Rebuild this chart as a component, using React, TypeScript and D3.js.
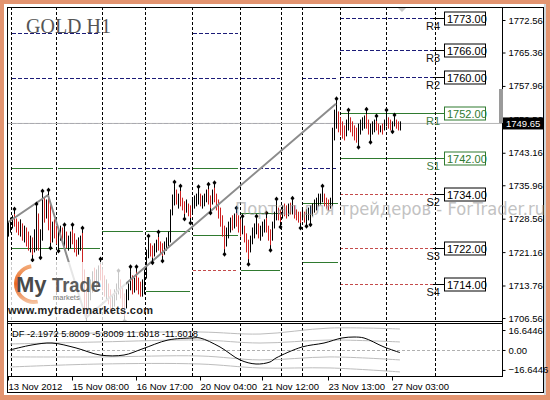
import * as d3 from 'd3';
import { useEffect, useRef } from 'react';

const FONT = '"Liberation Sans", Arial, sans-serif';
const MAIN = { left: 7, right: 502, top: 7, bottom: 321 };
const SUB = { top: 323, bottom: 376 };

// hourly bars (price units)
const barHigh = [
  1727.8, 1728.7, 1729.2, 1729.6, 1728.5, 1727.8, 1728.3, 1727.4, 1726.9, 1726.5,
  1725.6, 1724.7, 1724.3, 1726.1, 1730.7, 1729.6, 1726.1, 1733.6, 1733.1, 1732.7,
  1733.8, 1732.0, 1727.8, 1728.3, 1726.9, 1726.1, 1726.9, 1726.5, 1726.1, 1725.6,
  1724.7, 1725.6, 1726.1, 1725.2, 1723.8, 1724.3, 1724.7, 1725.4, 1717.2, 1712.8,
  1713.9, 1715.0, 1716.8, 1717.6, 1717.2, 1718.1, 1718.5, 1717.2, 1715.9, 1715.0,
  1714.1, 1712.8, 1711.4, 1712.8, 1714.1, 1715.9, 1715.0, 1713.2, 1711.9, 1712.8,
  1714.1, 1716.8, 1715.9, 1715.4, 1716.8, 1715.4, 1714.5, 1715.0, 1717.2, 1721.6,
  1723.6, 1723.0, 1722.5, 1723.0, 1723.8, 1724.5, 1723.4, 1723.0, 1723.4, 1724.3,
  1725.6, 1730.5, 1733.8, 1735.6, 1734.9, 1734.0, 1734.7, 1733.1, 1732.3, 1732.7,
  1731.8, 1731.4, 1732.7, 1733.6, 1734.0, 1734.5, 1734.0, 1733.6, 1734.0, 1734.9,
  1735.1, 1733.6, 1734.9, 1735.4, 1734.0, 1732.7, 1730.9, 1729.2, 1726.9, 1726.5,
  1727.8, 1728.7, 1729.2, 1729.6, 1729.8, 1729.2, 1728.3, 1728.0, 1726.9, 1725.2,
  1723.8, 1724.7, 1726.5, 1727.4, 1728.0, 1727.4, 1726.9, 1727.8, 1728.3, 1728.7,
  1726.9, 1726.1, 1727.8, 1730.0, 1731.8, 1730.9, 1730.5, 1731.4, 1731.8, 1731.4,
  1731.8, 1732.0, 1732.0, 1731.4, 1730.5, 1730.0, 1730.0, 1730.5, 1730.0, 1730.5,
  1730.9, 1731.4, 1731.8, 1732.7, 1733.1, 1734.0, 1734.0, 1734.7, 1734.0, 1733.1,
  1732.7, 1733.1, 1748.6, 1752.6, 1754.0, 1752.2, 1750.9, 1750.0, 1749.1, 1750.4,
  1751.5, 1750.9, 1750.0, 1749.1, 1748.6, 1749.5, 1750.4, 1750.9, 1751.3, 1751.7,
  1750.4, 1749.5, 1750.0, 1750.4, 1750.2, 1749.5, 1749.1, 1749.5, 1750.4, 1751.5,
  1750.9, 1750.4, 1750.0, 1750.4, 1750.4, 1750.0, 1750.0,
];
const barLow = [
  1724.7, 1725.6, 1726.5, 1726.9, 1725.6, 1725.0, 1724.7, 1723.8, 1723.4, 1722.5,
  1721.6, 1721.2, 1720.5, 1721.2, 1721.6, 1721.6, 1721.0, 1723.8, 1727.8, 1728.7,
  1726.1, 1723.2, 1723.4, 1724.3, 1723.0, 1722.5, 1723.8, 1723.4, 1722.5, 1722.1,
  1721.6, 1722.1, 1723.0, 1721.2, 1720.3, 1720.7, 1721.6, 1712.8, 1707.9, 1706.6,
  1708.3, 1710.6, 1712.3, 1713.9, 1712.8, 1714.5, 1715.0, 1712.8, 1711.4, 1710.6,
  1709.7, 1708.3, 1707.5, 1709.2, 1710.6, 1711.9, 1711.0, 1708.8, 1707.0, 1708.8,
  1710.6, 1712.8, 1711.9, 1712.3, 1712.8, 1711.9, 1711.4, 1711.4, 1711.9, 1715.4,
  1719.9, 1720.3, 1719.9, 1720.3, 1721.2, 1721.6, 1720.7, 1720.3, 1720.7, 1721.6,
  1722.5, 1723.4, 1729.4, 1731.6, 1731.8, 1730.9, 1731.4, 1730.5, 1729.6, 1730.0,
  1729.2, 1728.7, 1729.6, 1730.9, 1731.4, 1731.8, 1731.4, 1730.9, 1731.4, 1732.3,
  1731.8, 1730.9, 1731.8, 1732.3, 1730.5, 1728.7, 1726.9, 1724.7, 1721.8, 1722.5,
  1724.3, 1725.6, 1726.1, 1726.5, 1726.9, 1725.6, 1724.7, 1725.2, 1723.4, 1721.2,
  1719.6, 1721.2, 1723.0, 1724.3, 1725.2, 1724.3, 1723.8, 1724.7, 1725.6, 1725.6,
  1723.8, 1722.7, 1723.8, 1726.5, 1728.3, 1728.3, 1727.8, 1728.7, 1729.2, 1728.7,
  1729.2, 1729.6, 1729.6, 1728.7, 1728.3, 1727.8, 1727.6, 1728.3, 1727.8, 1728.0,
  1728.3, 1728.3, 1729.2, 1730.0, 1730.5, 1731.4, 1731.8, 1732.3, 1731.4, 1730.9,
  1730.5, 1730.9, 1731.4, 1746.0, 1748.6, 1747.8, 1747.1, 1746.4, 1746.0, 1746.9,
  1748.2, 1747.8, 1746.9, 1746.0, 1745.5, 1745.5, 1747.3, 1748.2, 1748.6, 1748.6,
  1747.3, 1746.6, 1747.3, 1747.8, 1748.2, 1747.3, 1747.8, 1747.3, 1748.2, 1749.1,
  1748.6, 1748.2, 1748.9, 1749.1, 1748.6, 1748.2, 1748.2,
];
const barClose = [
  1726.5, 1727.8, 1728.3, 1727.4, 1726.9, 1726.1, 1726.5, 1724.7, 1725.6, 1723.4,
  1722.5, 1723.8, 1721.6, 1724.3, 1729.6, 1722.5, 1724.7, 1732.7, 1730.5, 1731.6,
  1726.9, 1724.3, 1726.5, 1725.6, 1723.8, 1724.7, 1726.1, 1724.7, 1725.6, 1723.0,
  1723.8, 1724.7, 1724.3, 1722.1, 1721.2, 1723.4, 1723.8, 1713.9, 1710.6, 1709.4,
  1711.7, 1713.9, 1715.4, 1714.5, 1716.1, 1717.2, 1715.9, 1713.7, 1712.3, 1712.8,
  1711.0, 1709.2, 1710.6, 1711.9, 1713.2, 1714.5, 1711.9, 1709.7, 1708.3, 1711.4,
  1712.8, 1715.0, 1713.2, 1714.5, 1713.7, 1712.8, 1712.3, 1713.2, 1716.1, 1720.5,
  1722.5, 1721.2, 1720.7, 1722.1, 1723.0, 1722.5, 1721.6, 1721.2, 1722.5, 1723.4,
  1724.7, 1729.4, 1732.7, 1733.8, 1732.7, 1733.1, 1732.3, 1731.4, 1730.5, 1731.8,
  1730.0, 1729.6, 1731.8, 1732.7, 1733.1, 1733.6, 1732.3, 1732.7, 1733.1, 1734.0,
  1732.7, 1731.8, 1734.0, 1733.1, 1731.4, 1729.6, 1727.8, 1725.6, 1723.0, 1725.6,
  1726.5, 1727.8, 1726.9, 1728.7, 1728.3, 1726.5, 1726.1, 1726.9, 1724.3, 1722.1,
  1721.6, 1723.8, 1725.2, 1726.5, 1726.9, 1725.6, 1726.1, 1726.9, 1727.8, 1726.5,
  1724.7, 1723.8, 1726.9, 1729.2, 1730.5, 1729.2, 1728.7, 1730.5, 1730.0, 1729.6,
  1730.9, 1730.5, 1730.9, 1729.6, 1729.2, 1728.7, 1728.3, 1729.6, 1728.7, 1729.2,
  1730.0, 1730.5, 1730.9, 1731.8, 1732.7, 1733.1, 1733.6, 1734.0, 1732.3, 1731.8,
  1731.4, 1732.3, 1748.2, 1750.4, 1752.2, 1749.1, 1748.2, 1747.3, 1746.9, 1749.5,
  1750.4, 1749.1, 1747.8, 1746.9, 1746.4, 1748.6, 1749.5, 1750.0, 1750.4, 1749.5,
  1748.2, 1748.6, 1749.1, 1749.5, 1749.1, 1748.2, 1748.6, 1748.2, 1750.0, 1750.4,
  1749.5, 1749.1, 1749.5, 1750.0, 1749.5, 1749.1, 1749.65,
];
const currentPrice = 1749.65;

// fractal bar indices
const fractalUp = [3, 14, 17, 20, 28, 32, 37, 46, 55, 61, 64, 70, 75, 83, 86, 95, 100, 103, 114, 117, 124, 129, 134, 142, 157, 164, 170, 179, 184, 189, 193];
const fractalDown = [12, 16, 21, 25, 39, 58, 72, 77, 88, 91, 101, 108, 120, 131, 136, 146, 149, 151, 175, 181, 192];

// zigzag vertices [bar index, price]
const zigzag: [number, number][] = [[0, 1727.8], [20, 1733.8], [39, 1706.6], [164, 1754.0]];

// day separators (bar index)
const daySeps = [1.25, 24, 47, 68.5, 92, 116, 136.5, 147, 166, 189, 213.5];

// daily pivot levels of past days: [from, to, price, kind]
const pastLevels: [number, number, number, string][] = [
  [2, 22.5, 1769.7, 'r'], [25, 46, 1769.7, 'r'], [92.5, 115, 1769.7, 'r'],
  [2, 22.5, 1759.7, 'r'], [25, 46, 1759.7, 'r'], [47, 67.5, 1759.7, 'r'], [69, 91, 1759.7, 'r'],
  [92.5, 115, 1759.7, 'r'], [116.5, 136, 1759.7, 'r'], [147, 165, 1759.7, 'r'],
  [2, 22.5, 1749.8, 'r'], [25, 46, 1749.8, 'r'], [47, 67.5, 1749.8, 'r'], [69, 91, 1749.8, 'r'],
  [92.5, 115, 1749.8, 'r'], [116.5, 136, 1749.8, 'r'], [147, 165, 1749.8, 'r'],
  [2, 22.5, 1739.8, 'p'], [25, 46, 1739.8, 'p'], [47, 67.5, 1739.8, 'r'], [69, 91, 1739.8, 'r'],
  [92.5, 115, 1739.8, 'p'], [116.5, 136, 1739.8, 'r'], [147, 165, 1739.8, 'r'],
  [147, 165, 1732.0, 'p'], [116.5, 136, 1729.8, 'p'],
  [47, 67.5, 1725.8, 'p'], [69, 91, 1725.8, 'p'], [92.5, 115, 1724.9, 'p'],
  [2, 22.5, 1722.1, 'p'], [25, 46, 1722.1, 'p'],
  [147, 165, 1719.0, 'p'], [92.5, 115, 1717.2, 's'], [116.5, 136, 1717.2, 'p'],
  [69, 91, 1712.5, 'p'],
];

// current day pivots
const pivotNames = ['R4', 'R3', 'R2', 'R1', 'S1', 'S2', 'S3', 'S4'];
const pivotValues = [1773, 1766, 1760, 1752, 1742, 1734, 1722, 1714];
const pivotKinds = ['r', 'r', 'r', 'p', 'p', 's', 's', 's'];
const pivotSpan = [166, 212.5];

const priceTicks = [1772.56, 1765.36, 1757.96, 1750.56, 1743.16, 1735.96, 1728.56, 1721.16, 1713.76, 1706.56];
const timeTickIdx = [0, 32, 64, 96, 127, 160, 192];
const timeTickLabels = ['13 Nov 2012', '15 Nov 08:00', '16 Nov 17:00', '20 Nov 04:00', '21 Nov 12:00', '23 Nov 13:00', '27 Nov 03:00'];

// DF oscillator
const dfIdx = [1, 12, 22, 34, 46, 58, 67, 80, 92, 96, 106, 116, 124, 131, 134, 147, 158, 167, 173, 178, 188, 196];
const dfVal = [0, 4.2, 5.8, 1.7, -4.2, -4.2, 0.8, 8.3, 10, 10, 2.5, -8.3, -11.7, -10, -6.7, 2.5, 5.8, 10, 10.8, 10, 2.5, -2.2];
const bandIdx = [1, 46, 96, 126, 161, 196];
const bandUp2 = [12.5, 14.2, 15, 13.3, 18.3, 17.5];
const bandUp1 = [5, 6.7, 8.3, 5.8, 8.3, 6.7];
const bandDn1 = [-5.8, -5.8, -5, -8.3, -5.8, -8.3];
const bandDn2 = [-14.2, -11.7, -11.7, -15, -15, -18.3];
const dfTicks = [16.6446, 0, -16.6446];

const LEVEL_STYLE: Record<string, { stroke: string; dash?: string }> = {
  r: { stroke: '#1c1c78', dash: '4,2' },
  p: { stroke: '#2f7a2f' },
  s: { stroke: '#c44a4a', dash: '3,2' },
};

export default function App() {
  const priceAxisRef = useRef<SVGGElement | null>(null);
  const dfAxisRef = useRef<SVGGElement | null>(null);
  const timeAxisRef = useRef<SVGGElement | null>(null);

  const xScale = d3.scaleLinear().domain([0, 196]).range([8, 400]);
  const yScale = d3.scaleLinear().domain([1705.9, 1775.44]).range([MAIN.bottom, MAIN.top]);
  const dfScale = d3.scaleLinear().domain([-21.7, 22.5]).range([SUB.bottom, SUB.top]);

  const px = (i: number) => Math.round(xScale(i)) + 0.5;
  const py = (p: number) => Math.round(yScale(p)) + 0.5;

  useEffect(() => {
    const style = (g: any) => {
      g.attr('font-family', FONT).attr('font-size', 9.5);
      g.select('.domain').remove();
      g.selectAll('line').attr('stroke', '#000');
      g.selectAll('text').attr('fill', '#000');
    };
    const pa = d3.select(priceAxisRef.current);
    pa.selectAll('*').remove();
    pa.call(d3.axisRight(yScale).tickValues(priceTicks).tickSize(3).tickPadding(3).tickFormat(d3.format('.2f')) as any);
    style(pa);

    const da = d3.select(dfAxisRef.current);
    da.selectAll('*').remove();
    da.call(
      d3.axisRight(dfScale).tickValues(dfTicks).tickSize(3).tickPadding(3)
        .tickFormat((d: any) => (d === 0 ? '0.00' : d3.format('.4f')(d))) as any
    );
    style(da);

    const ta = d3.select(timeAxisRef.current);
    ta.selectAll('*').remove();
    ta.call(
      d3.axisBottom(xScale).tickValues(timeTickIdx).tickSize(4).tickPadding(3)
        .tickFormat((_d: any, i: number) => timeTickLabels[i]) as any
    );
    style(ta);
    ta.selectAll('text').attr('text-anchor', 'start');
  }, []);

  const bars = barClose.map((c, i) => {
    const open = i === 0 ? barClose[0] : barClose[i - 1];
    return { i, high: barHigh[i], low: barLow[i], up: c >= open };
  });

  const zigLine = d3.line<[number, number]>().x((d) => xScale(d[0])).y((d) => yScale(d[1]))(zigzag) ?? '';
  const dfLine = d3.line<number>().curve(d3.curveCatmullRom)
    .x((_d, k) => xScale(dfIdx[k])).y((d) => dfScale(d));
  const bandLine = d3.line<number>().curve(d3.curveCatmullRom)
    .x((_d, k) => xScale(bandIdx[k])).y((d) => dfScale(d));

  const diamond = (cx: number, cy: number) =>
    `M${cx},${cy - 2.5}L${cx + 2},${cy}L${cx},${cy + 2.5}L${cx - 2},${cy}Z`;

  const swoosh = d3.arc()({ innerRadius: 16, outerRadius: 20, startAngle: -3.35, endAngle: -0.15 }) ?? '';

  return (
    <svg width={550} height={400} style={{ position: 'absolute', left: 0, top: 0 }}>
      <defs>
        <clipPath id="mainClip">
          <rect x={MAIN.left + 1} y={MAIN.top + 1} width={MAIN.right - MAIN.left - 1} height={MAIN.bottom - MAIN.top - 1} />
        </clipPath>
        <clipPath id="subClip">
          <rect x={MAIN.left + 1} y={SUB.top + 1} width={MAIN.right - MAIN.left - 1} height={SUB.bottom - SUB.top - 1} />
        </clipPath>
        <linearGradient id="swooshGrad" x1="0" y1="0" x2="0" y2="1">
          <stop offset="0%" stopColor="#f4b080" />
          <stop offset="50%" stopColor="#e8661e" />
          <stop offset="100%" stopColor="#f6c8a8" />
        </linearGradient>
      </defs>

      {/* window frame */}
      <rect x={0} y={0} width={550} height={400} fill="#e39470" />
      <rect x={4} y={4} width={542} height={391} fill="#fff" />
      <rect x={544} y={4} width={2} height={391} fill="#cfd6dc" />
      <rect x={7.5} y={7.5} width={536} height={385} fill="none" stroke="#000" />

      {/* main panel */}
      <g clipPath="url(#mainClip)">
        {pastLevels.map(([a, b, p, k], j) => (
          <line key={'pl' + j} x1={xScale(a)} x2={xScale(b)} y1={py(p)} y2={py(p)}
            stroke={LEVEL_STYLE[k].stroke} strokeDasharray={LEVEL_STYLE[k].dash} />
        ))}
        {pivotValues.map((p, j) => (
          <line key={'pv' + j} x1={xScale(pivotSpan[0])} x2={xScale(pivotSpan[1])} y1={py(p)} y2={py(p)}
            stroke={LEVEL_STYLE[pivotKinds[j]].stroke} strokeDasharray={LEVEL_STYLE[pivotKinds[j]].dash} />
        ))}
        {pivotValues.map((p, j) => (
          <line key={'pc' + j} x1={xScale(pivotSpan[1])} x2={444} y1={py(p)} y2={py(p)}
            stroke={pivotKinds[j] === 'p' ? '#2f7a2f' : '#000'} />
        ))}
        {daySeps.map((d, j) => (
          <line key={'ds' + j} x1={px(d)} x2={px(d)} y1={MAIN.top} y2={MAIN.bottom} stroke="#000" strokeDasharray="3,2" />
        ))}
        <line x1={MAIN.left} x2={MAIN.right} y1={yScale(currentPrice)} y2={yScale(currentPrice)} stroke="#b4b4b4" />

        {bars.map((b) => (
          <line key={'b' + b.i} x1={px(b.i)} x2={px(b.i)} y1={yScale(b.high) - 0.5} y2={yScale(b.low) + 0.5}
            stroke={b.up ? '#000' : '#cc1f1f'} />
        ))}
        <path d={zigLine} fill="none" stroke="#8c8c8c" strokeWidth={2} />
        {fractalUp.map((i) => {
          const cx = px(i);
          const top = yScale(barHigh[i]);
          return (
            <g key={'fu' + i}>
              <line x1={cx} x2={cx} y1={top - 4} y2={top} stroke="#000" />
              <path d={diamond(cx, top - 5)} fill="#000" />
            </g>
          );
        })}
        {fractalDown.map((i) => {
          const cx = px(i);
          const bot = yScale(barLow[i]);
          return (
            <g key={'fd' + i}>
              <line x1={cx} x2={cx} y1={bot} y2={bot + 4} stroke="#000" />
              <path d={diamond(cx, bot + 5)} fill="#000" />
            </g>
          );
        })}

        {/* logo */}
        <rect x={8} y={262} width={118} height={60} fill="#fff" opacity={0.78} />
        <path d={swoosh} transform="translate(34,284)" fill="url(#swooshGrad)" />
        <text x={16} y={292} fontFamily={FONT} fontWeight="bold" fontSize={22} fill="#4a4a4a">My</text>
        <text x={52} y={292} fontFamily={FONT} fontWeight="bold" fontSize={21} fill="#5c5c5c" textLength={49} lengthAdjust="spacingAndGlyphs">Trade</text>
        <text x={53} y={300} fontFamily={FONT} fontSize={7.5} fill="#777">markets</text>
        <text x={8} y={314} fontFamily={FONT} fontWeight="bold" fontSize={11} fill="#222" textLength={145} lengthAdjust="spacing">www.mytrademarkets.com</text>
      </g>

      {/* pivot labels */}
      {pivotValues.map((p, j) => {
        const yy = py(p);
        const green = pivotKinds[j] === 'p';
        return (
          <g key={'lab' + j} fontFamily={FONT}>
            <text x={440} y={yy + 11} fontSize={11} textAnchor="end" fill={green ? '#3f7a3f' : '#111'}>{pivotNames[j]}</text>
            <rect x={444.5} y={yy - 6.5} width={41} height={13} fill="#fff" stroke={green ? '#2f7a2f' : '#000'} />
            <text x={447} y={yy + 4.5} fontSize={11} fill={green ? '#2f7a2f' : '#000'}>{d3.format('.2f')(p)}</text>
          </g>
        );
      })}

      {/* title */}
      <text x={26} y={33} fontFamily='"Liberation Serif", "Times New Roman", serif' fontSize={20} fill="#555">GOLD H1</text>

      {/* indicator panel */}
      <g clipPath="url(#subClip)">
        {daySeps.map((d, j) => (
          <line key={'ds2' + j} x1={px(d)} x2={px(d)} y1={SUB.top} y2={SUB.bottom} stroke="#000" strokeDasharray="3,2" />
        ))}
        <line x1={MAIN.left} x2={MAIN.right} y1={Math.round(dfScale(0)) + 0.5} y2={Math.round(dfScale(0)) + 0.5}
          stroke="#b0b0b0" strokeDasharray="3,2" />
        {[bandUp2, bandUp1, bandDn1, bandDn2].map((band, j) => (
          <path key={'band' + j} d={bandLine(band) ?? ''} fill="none" stroke="#bdbdbd" />
        ))}
        <path d={dfLine(dfVal) ?? ''} fill="none" stroke="#000" />
        <text x={12} y={337} fontFamily={FONT} fontSize={9} fill="#000" textLength={186} lengthAdjust="spacingAndGlyphs">
          DF -2.1972 5.8009 -5.8009 11.6018 -11.6018
        </text>
      </g>

      {/* panel borders */}
      <line x1={MAIN.left} x2={MAIN.right} y1={MAIN.bottom + 0.5} y2={MAIN.bottom + 0.5} stroke="#000" />
      <line x1={MAIN.left} x2={MAIN.right} y1={SUB.top + 0.5} y2={SUB.top + 0.5} stroke="#000" />
      <line x1={MAIN.left} x2={MAIN.right} y1={SUB.bottom + 0.5} y2={SUB.bottom + 0.5} stroke="#000" />
      <line x1={MAIN.right + 0.5} x2={MAIN.right + 0.5} y1={MAIN.top} y2={SUB.bottom + 1} stroke="#000" />

      <g ref={priceAxisRef} transform={`translate(${MAIN.right + 0.5},0)`} />
      <g ref={dfAxisRef} transform={`translate(${MAIN.right + 0.5},0)`} />
      <g ref={timeAxisRef} transform={`translate(0,${SUB.bottom + 0.5})`} />

      {/* shift marker and scroll block */}
      <path d="M398,8 L406,8 L402,12 Z" fill="#c8c8c8" />
      <rect x={499} y={89} width={4} height={34} fill="#9a9a9a" />

      {/* current price label */}
      <rect x={503} y={yScale(currentPrice) - 6} width={40} height={12} fill="#000" />
      <text x={506} y={yScale(currentPrice) + 3.5} fontFamily={FONT} fontSize={9.5} fill="#fff">{d3.format('.2f')(currentPrice)}</text>

      {/* watermark */}
      <text x={235} y={215} fontFamily='"DejaVu Sans", sans-serif' fontSize={18} fill="#9a9a9a" opacity={0.6}
        textLength={310} lengthAdjust="spacingAndGlyphs">Портал для трейдеров - ForTrader.ru</text>
    </svg>
  );
}
